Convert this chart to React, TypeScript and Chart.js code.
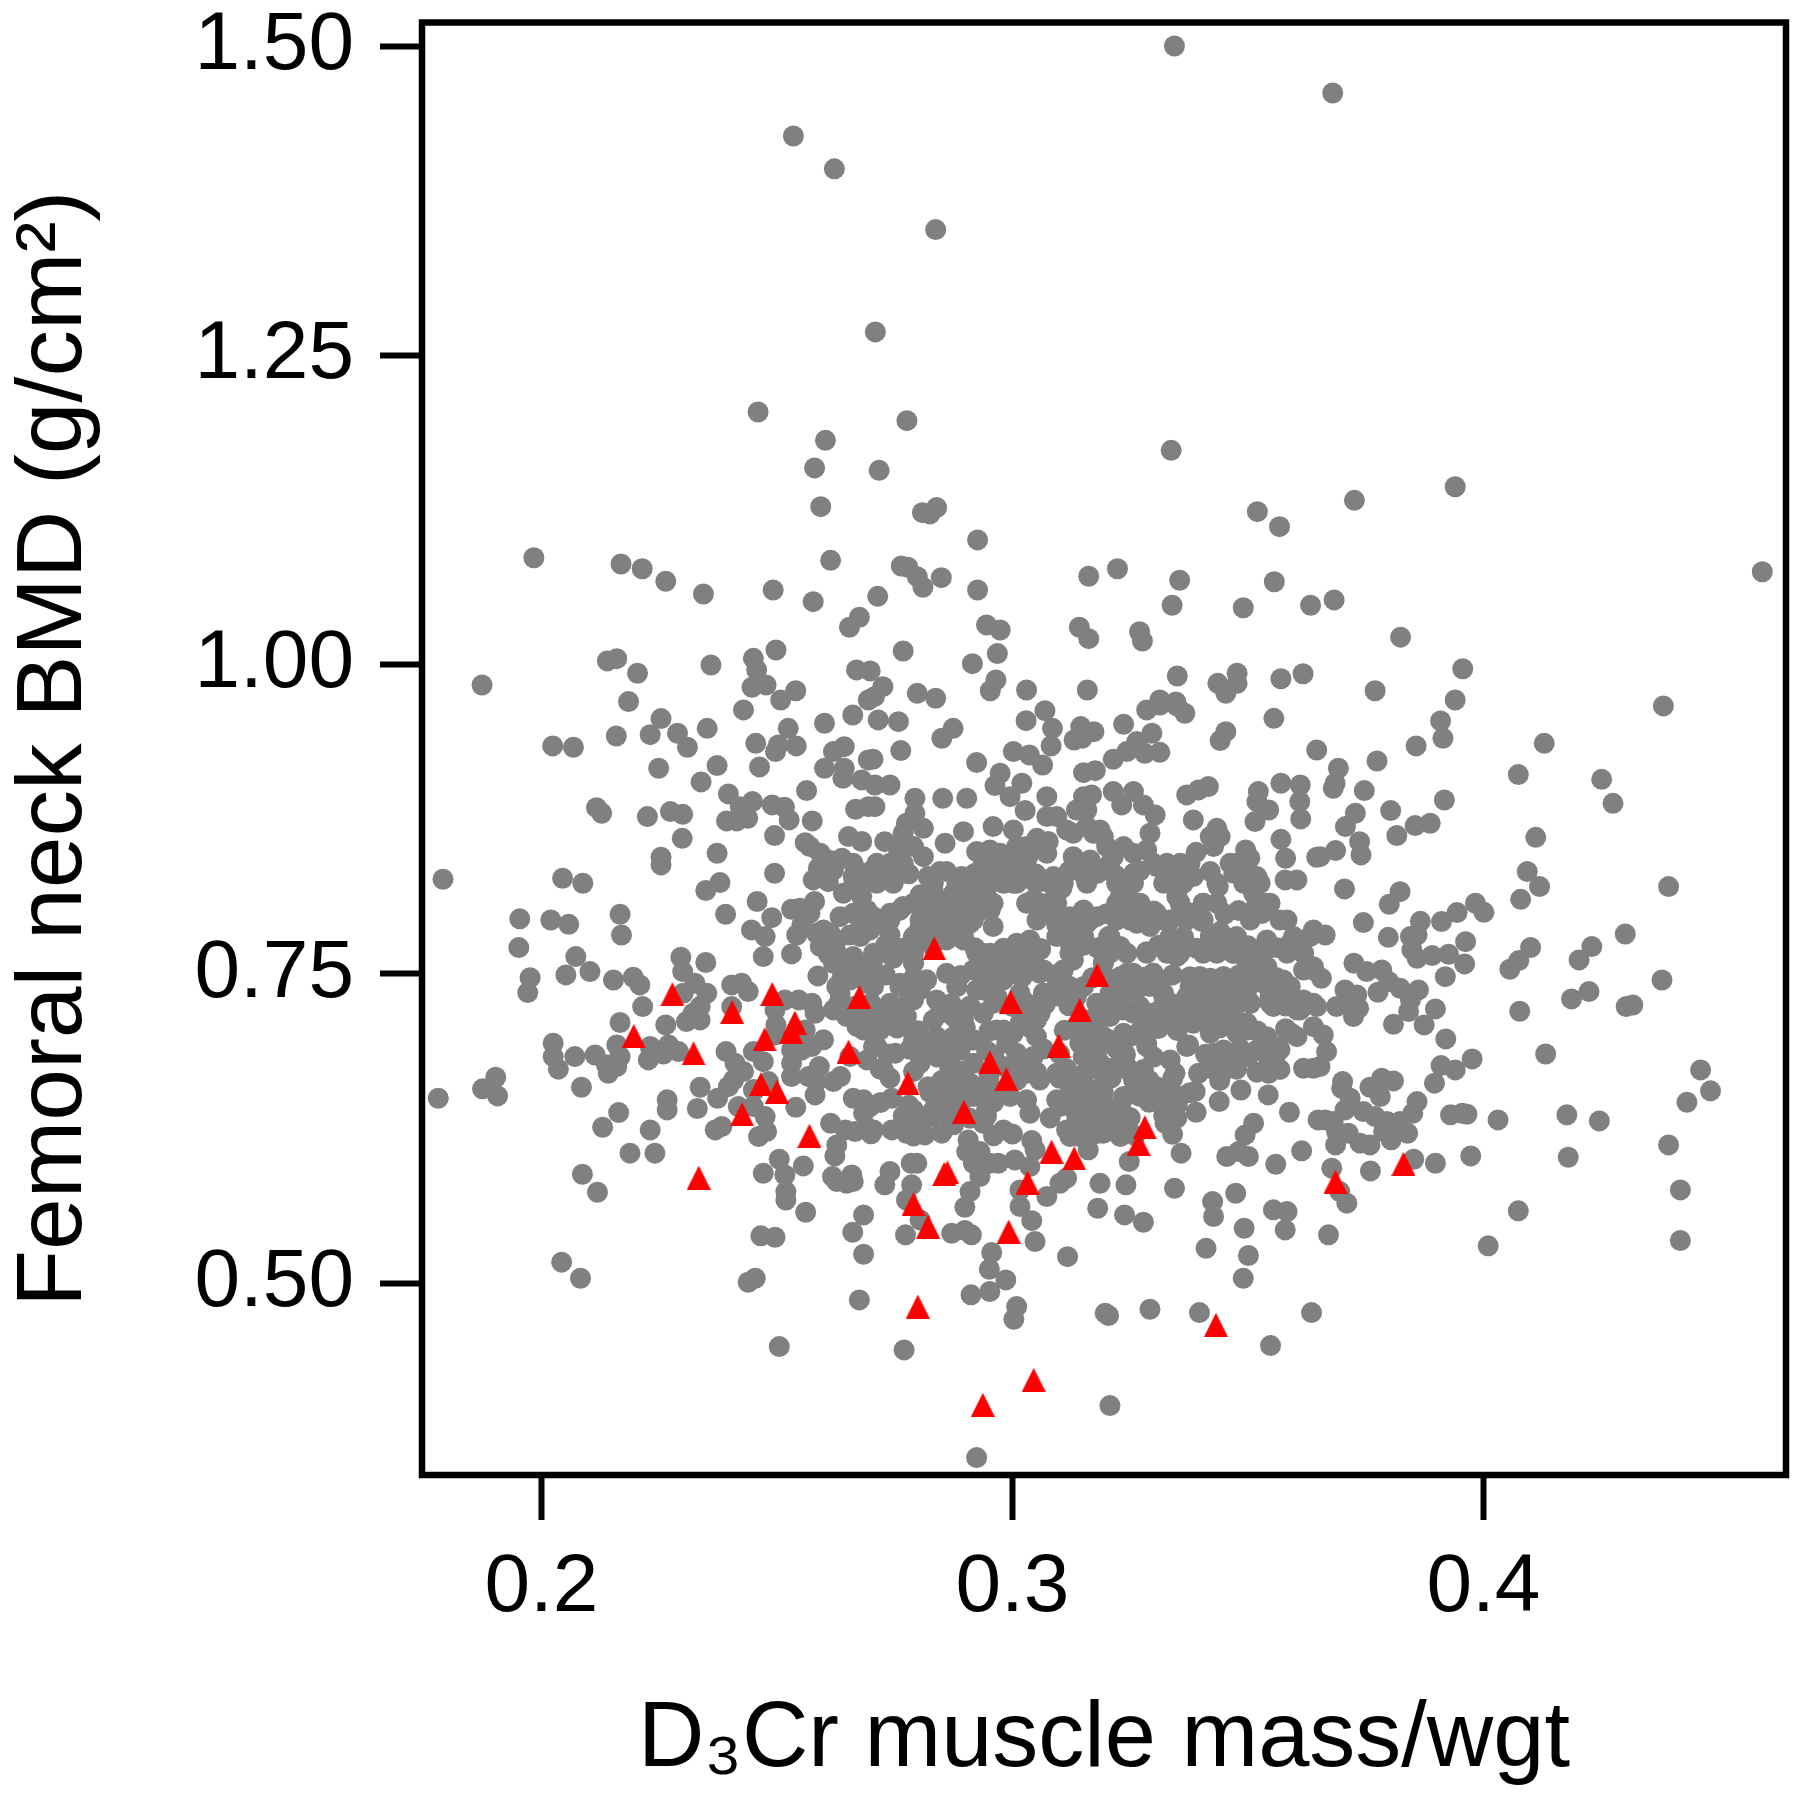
import React, { useEffect, useRef } from "react";
import { Chart, registerables } from "chart.js";

Chart.register(...registerables);

const xTickValues = [0.2, 0.3, 0.4];
const yTickValues = [0.5, 0.75, 1.0, 1.25, 1.5];
const xTitle = "D₃Cr muscle mass/wgt";
const yTitle = "Femoral neck BMD (g/cm²)";

// Grey circles as [ratio, BMD]
const outlierPoints: number[][] = [
  [.3344,1.5],[.3680,1.462],[.2535,1.4273],[.2622,1.4007],[.2837,1.3516],[.4592,1.0751],[.2709,1.2689],[.2460,1.2042],[.2776,1.1972],[.2603,1.1813],[.2580,1.159],[.2717,1.157],[.2593,1.1277],[.2839,1.1269],[.2825,1.1218],[.2809,1.1228],[.2926,1.1008],[.1984,1.0864],[.2169,1.0813],[.2214,1.0775],[.2264,1.0674],[.2344,1.0571],[.2492,1.0603],[.2614,1.0843],[.2577,1.0509],[.2714,1.0552],[.2764,1.0797],[.2778,1.0787],[.2798,1.0711],[.2810,1.0625],[.2849,1.0703],[.2926,1.0603],[.2675,1.0383],[.2654,1.0302],[.2945,1.0321],[.2974,1.028],[.2498,1.0118],[.2450,1.0051],[.2457,.9957],[.2447,.9817],[.2477,.9835],[.2540,.9789],[.2140,1.003],[.2160,1.0048],[.2204,.993],[.2360,.9997],[.2768,1.011],[.2669,.9957],[.2698,.9949],[.2915,1.0008],[.2968,1.0089],[.2965,.9876],[.2953,.9789],[.2725,.9822],[.2707,.9741],[.2798,.9768],[.2837,.9728],[.2185,.9701],[.1874,.9835],[.2508,.9714],
  [.3337,1.1732],[.3940,1.1438],[.3726,1.1328],[.3520,1.1236],[.3567,1.1115],[.3162,1.0714],[.3223,1.0775],[.3355,1.0682],[.3339,1.048],[.3556,1.067],[.3490,1.046],[.3633,1.048],[.3683,1.0523],[.3142,1.0302],[.3162,1.021],[.3270,1.0266],[.3276,1.0191],[.3824,1.0222],[.3956,.9967],[.3350,.9908],[.3436,.9849],[.3477,.993],[.3477,.9849],[.3453,.9768],[.3570,.9886],[.3617,.9926],[.3770,.9789],[.3159,.9795],[.3030,.9795],[.3940,.9714],[.3313,.9714],[.3347,.9698],
];

const upperLeftPoints: number[][] = [
  [.2429,.9634],[.2254,.9564],[.2231,.9434],[.2289,.9445],[.2310,.9332],[.2159,.9423],[.2024,.9343],[.2068,.9332],[.2352,.9485],[.2601,.9526],[.2661,.9593],[.2694,.9714],[.2524,.9485],[.2455,.9364],[.2503,.9351],[.2497,.9297],[.2541,.9343],[.2643,.9337],[.2620,.9297],[.2694,.923],[.2249,.9162],[.2373,.9184],[.2339,.9052],[.2463,.9173],[.2601,.9162],[.2643,.9162],[.2640,.9081],[.2680,.9068],[.2563,.8982],[.2397,.8955],[.2422,.8852],[.2448,.8893],[.2393,.8737],[.2415,.8737],[.2438,.8758],[.2490,.8866],[.2516,.8847],[.2526,.8745],[.2575,.8737],[.2667,.8831],[.2694,.8852],[.2117,.8844],[.2128,.8799],[.2225,.8772],[.2274,.8812],[.2300,.879],[.2299,.8596],[.2495,.8618],[.2560,.8561],[.2570,.8529],[.2652,.861],[.2680,.857],[.2373,.8475],[.2254,.8443],[.2254,.8381],[.2638,.8435],[.2613,.8416],[.2588,.8354],[.2577,.826],[.2609,.8246],[.2495,.8314],[.2045,.8273],[.2088,.8233],[.1791,.8265],[.2379,.8238],[.2349,.8174],[.2458,.8085],[.2662,.8287],[.2684,.826],[.2641,.8152],[.2680,.8125],[.2580,.8085],[.2531,.8023],[.2570,.799],[.2549,.8031],[.2391,.7982],[.2489,.7955],[.2634,.7963],[.2677,.7936],[.1954,.7945],[.2020,.7936],[.2058,.7901],[.2167,.7982],[.2170,.7815],[.2553,.7896],[.2542,.7815],[.2446,.7856],[.2475,.7802],[.2584,.7829],[.2613,.7829],[.2655,.7815],[.2691,.7856],[.1952,.7713],[.2073,.764],[.2471,.764],[.2531,.7662],[.2609,.7659],[.2592,.7721],[.2296,.7635],[.2300,.7519],[.2349,.7592],[.2620,.7586],[.2655,.7573],[.2691,.7573],[.1976,.747],[.1971,.7349],[.2052,.7492],[.2103,.7519],[.2153,.7451],[.2195,.7473],[.2209,.7411],[.2587,.7484],[.2638,.7465],[.2634,.7344],[.2691,.7425],
  [.2592,.8475],[.2620,.834],[.2662,.8394],[.2691,.8314],[.2662,.8206],[.2691,.8017],[.2662,.799],[.2599,.7856],[.2627,.7775],[.2677,.7802],[.2627,.7667],[.2662,.764],[.2691,.7532],[.2627,.7398],[.2655,.7451],[.2627,.7236],[.2662,.7236],[.2684,.7128],
];

const lowerLeftPoints: number[][] = [
  [.2326,.7425],[.2351,.7344],[.2301,.7344],[.2337,.7236],[.2308,.7115],[.2337,.7128],[.2322,.7182],[.2215,.7236],[.2264,.7088],[.2167,.7107],[.2404,.7411],[.2425,.7425],[.2439,.7357],[.2404,.7236],[.2517,.729],[.2546,.729],[.2574,.7263],[.2581,.7182],[.2496,.7209],[.2498,.7088],[.2496,.7007],[.2620,.7209],[.2648,.7155],[.2634,.729],[.2684,.7047],[.2670,.7074],[.2560,.7047],[.2531,.6886],[.2531,.6778],[.2599,.6967],[.2574,.6913],[.2553,.6886],[.2655,.6832],[.2691,.6805],[.2160,.6926],[.2025,.694],[.2025,.6832],[.2036,.673],[.2071,.6832],[.2114,.6845],[.2142,.6697],[.2160,.6751],[.2138,.6765],[.2167,.6832],[.2231,.6913],[.2227,.6805],[.2259,.6853],[.2291,.6872],[.2270,.6926],[.2392,.6872],[.2411,.6778],[.2429,.6711],[.2408,.6643],[.2397,.6589],[.2374,.6495],[.2450,.6872],[.2471,.6791],[.2453,.6563],[.2337,.6584],[.2331,.6412],[.2085,.6584],[.1903,.6665],[.1875,.6571],[.1907,.6514],[.1781,.6495],[.2531,.667],[.2567,.667],[.2590,.6751],[.2584,.663],[.2620,.663],[.2635,.667],[.2581,.6522],[.2482,.663],[.2450,.6563],[.2267,.6482],[.2267,.6401],[.2418,.6428],[.2450,.6428],[.2475,.6347],[.2478,.6226],[.2461,.6185],[.2383,.6266],[.2369,.6239],[.2540,.6422],[.2164,.6379],[.2130,.6261],[.2231,.6239],[.2188,.6051],[.2241,.6051],[.2614,.6293],[.2662,.6495],[.2684,.6482],[.2684,.6374],[.2645,.6239],[.2666,.6226],[.2694,.6253],[.2627,.6118],[.2623,.6029],[.2087,.5881],[.2119,.5735],[.2505,.6002],[.2471,.5889],[.2517,.5875],[.2556,.5948],[.2519,.5741],[.2519,.5673],[.2618,.5862],[.2627,.5822],[.2659,.5875],[.2662,.5822],[.2648,.5808],[.2561,.5574],[.2684,.5552],[.2661,.5412],[.2684,.5234],[.2466,.5383],[.2496,.5372],[.2043,.517],[.2083,.504],[.2439,.5008],[.2454,.504],[.2675,.4865],[.2505,.4488],
];

const lowerCentrePoints: number[][] = [
  [.2744,.6239],[.2775,.6212],[.2814,.6199],[.2705,.6239],[.2875,.628],[.2938,.6293],[.2981,.6239],[.3037,.6374],[.2906,.6158],[.2903,.6064],[.2931,.6064],[.2917,.597],[.2931,.5862],[.2910,.5741],[.2899,.5614],[.2952,.597],[.2970,.597],[.3005,.5997],[.3037,.5943],[.3041,.6153],[.3048,.6078],[.2797,.597],[.2785,.597],[.2740,.5903],[.2729,.5795],[.2786,.5795],[.2775,.5673],[.2804,.5512],[.2773,.5391],[.2871,.5404],[.2899,.5426],[.2913,.5391],[.3016,.5754],[.3016,.562],[.3041,.5506],[.3048,.5337],[.3073,.57],[.3101,.5808],[.3115,.5849],[.3186,.5808],[.3241,.5795],[.3181,.5606],[.3238,.5552],[.3278,.5493],[.3344,.5768],[.3425,.566],[.3427,.5539],[.3474,.5727],[.3492,.5444],[.3554,.5593],[.3583,.5579],[.3579,.5431],[.3411,.5283],[.3501,.5224],[.3490,.504],[.3117,.5215],[.2956,.5248],[.2951,.5113],[.2986,.5027],[.2952,.4933],[.2912,.4906],[.3009,.4811],[.3003,.4709],[.3197,.4758],[.3204,.4739],[.3292,.479],[.3397,.4763],[.3635,.4763],[.3548,.4496],[.2770,.4461],[.3207,.4011],[.2924,.3591],
  [.3358,.6051],[.3248,.5983],[.3161,.6078],[.3455,.6024],[.3480,.6064],[.3501,.6024],[.3559,.5962],[.3614,.607],[.3494,.6199],[.3512,.6293],[.3588,.6382],[.3649,.632],[.3439,.6468],[.3485,.6562],[.3543,.6522],[.3390,.6382],[.3324,.6293],[.3324,.6401],[.3356,.6509],[.3388,.6549],[.3395,.6697],[.3303,.6589],[.3335,.6805],[.3345,.6697],[.3374,.6926],[.3618,.6738],[.3639,.6738],[.3544,.6697],[.3558,.6832],[.3519,.6886],[.3476,.7021],[.3498,.7074],[.3448,.6724],[.3465,.6778],[.3427,.6859],[.3448,.6886],[.3592,.7021],[.3618,.729],[.3646,.7236],[.3554,.7236],[.3469,.7236],[.3505,.7263],[.3491,.7101],[.3420,.7128],[.3384,.7101],[.3335,.7128],[.3313,.7209],[.3377,.7263],[.3405,.7236],[.3434,.7344],[.3398,.7479],[.3448,.7479],[.3497,.7559],[.3540,.7559],[.3575,.7425],[.3639,.7532],
];

const denseBlobPoints: number[][] = [
  [.2705,.7627],[.2747,.7627],[.2790,.7586],[.2761,.7425],[.2818,.7452],[.2860,.7505],[.2740,.7263],[.2790,.729],[.2882,.7398],[.2839,.729],[.2726,.7155],[.2768,.7101],[.2832,.7128],[.2882,.7128],[.2719,.7047],[.2804,.6967],[.2846,.6913],[.2917,.6967],[.2889,.6886],[.2705,.6913],[.2726,.6724],[.2751,.6859],[.2804,.6778],[.2867,.6805],[.2917,.6778],[.2821,.6589],[.2867,.6616],[.2910,.6616],[.2744,.6495],[.2698,.6428],[.2790,.6401],[.2832,.6401],[.2867,.6482],[.2917,.6509],[.2945,.6401],[.2804,.6293],
  [.2938,.7613],[.2981,.7586],[.3037,.7613],[.3058,.7505],[.2938,.7371],[.2938,.7182],[.2960,.7479],[.3030,.7263],[.3066,.7344],[.3101,.7344],[.3122,.7398],[.3108,.7532],[.3129,.7613],[.3193,.7586],[.2981,.7047],[.3016,.7101],[.3051,.7128],[.3136,.7074],[.3165,.7101],[.3207,.7155],[.3257,.7182],[.3236,.7344],[.3278,.7425],[.3306,.7398],[.3299,.7505],[.3214,.7452],[.3243,.7505],[.2988,.694],[.3044,.6832],[.3009,.6859],[.3143,.694],[.3193,.6994],[.3236,.7021],[.3285,.6913],[.3292,.7182],[.2981,.6751],[.3030,.6697],[.3058,.6643],[.3094,.6697],[.3136,.667],[.3186,.6778],[.3193,.6684],[.3136,.6589],[.3179,.6563],[.3243,.6751],[.3257,.6643],[.2960,.6563],[.2995,.6509],[.3030,.6482],[.3094,.6482],[.3151,.6482],[.3200,.6428],[.3236,.6509],[.3271,.6509],[.3306,.6589],[.3321,.6482],[.3122,.6185],[.3158,.6239],[.3193,.6212],[.3229,.6185],[.3243,.6266],[.3115,.6239],[.3101,.6428],[.3193,.6374],[.3207,.6293],
  [.2917,.7532],[.2938,.7478],[.2974,.7505],[.3009,.7505],[.3044,.7532],[.3094,.7398],[.3151,.7398],[.3214,.7398],[.3257,.7505],[.3306,.7451],[.3377,.7478],[.3448,.7425],[.3512,.7505],[.3533,.7425],[.3575,.7451],[.3618,.7532],
  [.2705,.7398],[.2761,.7398],[.2804,.7371],[.2882,.7398],[.2924,.7371],[.2967,.7317],[.3016,.7344],[.3066,.7344],[.3101,.7317],[.3136,.7317],[.3179,.7263],[.3207,.7344],[.3264,.7371],[.3321,.7317],[.3370,.7317],[.3405,.7371],[.3462,.729],[.3498,.7371],[.3547,.7263],[.3590,.7398],
  [.2719,.7209],[.2747,.7209],[.2775,.7155],[.2846,.7182],[.2875,.7155],[.2896,.7128],[.2938,.7182],[.3030,.7182],[.3059,.7182],[.3158,.7128],[.3193,.7155],[.3236,.7209],[.3285,.7155],[.3321,.7155],[.3370,.7155],[.3413,.7155],[.3448,.7182],[.3498,.7101],[.3540,.6993],[.3604,.7209],
  [.2712,.6913],[.2790,.6966],[.2839,.6993],[.2875,.6993],[.2917,.6966],[.2967,.7047],[.3002,.702],[.3051,.6993],[.3143,.6993],[.3165,.6966],[.3207,.6966],[.3250,.6993],[.3285,.694],[.3370,.6913],[.3420,.702],[.3462,.7101],[.3498,.7047],[.3561,.6913],[.3604,.6993],[.3639,.7074],
  [.2782,.6891],[.2811,.6872],[.2860,.6896],[.2945,.688],[.3066,.6893],[.3179,.6868],[.3221,.6897],[.3448,.6874],[.3483,.6895],[.3533,.687],[.3568,.6889],
  [.2719,.6731],[.2790,.6712],[.2867,.6738],[.2896,.6716],[.3002,.6729],[.3051,.6708],[.3115,.6733],[.3158,.6719],[.3214,.6741],[.3250,.6711],[.3278,.6727],[.3420,.6735],[.3448,.6714],[.3476,.673],[.3519,.6706],[.3568,.6728],
  [.2825,.6542],[.2860,.6524],[.2889,.6549],[.2931,.6528],[.3122,.6545],[.3165,.6521],[.3193,.6541],[.3250,.6527],[.3278,.6548],[.3335,.6526],[.3377,.654],
  [.2768,.6353],[.2825,.6338],[.2860,.6359],[.2910,.6333],[.2945,.6351],[.3080,.6336],[.3136,.6355],[.3172,.6331],[.3207,.6349],[.3250,.6339],[.3321,.6356],[.3349,.6334],
  [.2755,.7062],[.2800,.7041],[.2900,.7068],[.2950,.7037],[.3040,.7059],[.3110,.7044],[.3180,.7065],[.3270,.7033],[.3310,.7058],[.3350,.7042],[.3440,.7063],[.3520,.7039],[.3580,.7057],
  [.2735,.6852],[.2840,.6829],[.2960,.6847],[.3010,.6826],[.3100,.6855],[.3150,.6833],[.3240,.6849],[.3300,.6828],[.3410,.6851],[.3500,.6831],[.3540,.6846],
  [.2740,.6658],[.2850,.6639],[.2950,.6662],[.3010,.6643],[.3100,.6656],[.3150,.6637],[.3210,.6661],[.3290,.6641],[.3340,.6655],[.3440,.6638],
  [.2720,.6461],[.2780,.6439],[.2850,.6456],[.2890,.6442],[.2960,.6463],[.3110,.6438],[.3170,.6458],[.3230,.644],[.3290,.6462],[.3350,.6443],
  [.2700,.6208],[.2790,.6189],[.2850,.6213],[.2960,.6192],[.3000,.6206],[.3140,.6187],[.3180,.6211],[.3260,.6194],[.3340,.6204],
  [.2700,.7262],[.2770,.7238],[.2870,.7259],[.2910,.7241],[.2960,.7264],[.3000,.7236],[.3070,.7257],[.3120,.7243],[.3220,.7261],[.3270,.7239],[.3340,.7256],[.3430,.7242],[.3480,.726],[.3580,.724],
];

const upperCentrePoints: number[][] = [
  [.3069,.9628],[.3029,.9547],[.3085,.9485],[.3082,.9343],[.3145,.9499],[.3131,.9391],[.3148,.9405],[.3173,.9458],[.3236,.9518],[.3285,.9634],[.3313,.9674],[.3349,.9666],[.3366,.9607],[.3453,.9458],[.3441,.9386],[.3555,.9566],[.3646,.931],[.3296,.9445],[.3264,.9378],[.3243,.9297],[.3214,.9235],[.3281,.9283],[.3313,.9291],[.3002,.9297],[.3036,.927],[.3064,.9189],[.2924,.9208],[.3151,.9127],[.3176,.9143],[.2874,.9485],[.2850,.9405],[.2763,.9305],[.2758,.9539],[.2715,.9553],[.2704,.9235],[.2740,.9027],[.2793,.892],[.2852,.892],[.2903,.892],[.2974,.9122],[.2963,.9022],[.2995,.8933],[.3020,.9041],[.3073,.8933],[.3027,.882],[.3073,.8772],[.3094,.8772],[.3151,.8933],[.3168,.8947],[.3136,.8825],[.3158,.8825],[.3214,.8974],[.3257,.8974],[.3232,.8866],[.3278,.8866],[.3303,.8785],[.3370,.8947],[.3416,.9014],[.3395,.8987],[.3384,.8745],[.3522,.8974],[.3519,.8893],[.3544,.8825],[.3515,.8731],[.3570,.9041],[.3611,.9027],[.3610,.8893],[.3612,.8753],[.3570,.8588],[.3580,.8435],[.3579,.826],[.3604,.826],[.3646,.8443],[.3434,.8677],[.3441,.861],[.3427,.8529],[.3390,.8483],[.3495,.8502],[.3504,.8435],[.3462,.8394],[.3519,.8287],[.3498,.8287],[.3512,.8152],[.3540,.8071],[.3568,.7936],[.3505,.7955],[.3437,.8206],[.3405,.8071],[.3451,.7984],[.3402,.7923],[.3441,.7842],[.3469,.7775],[.3420,.7748],[.3540,.7775],[.3639,.7856],[.3590,.7748],[.3618,.7667],[.3639,.7559],[.3519,.7613],[.3469,.7667],
  [.3292,.8637],[.3285,.8502],[.3236,.8529],[.3200,.8529],[.3257,.8475],[.3214,.8448],[.3129,.8637],[.3158,.8691],[.3186,.8664],[.3129,.8448],[.3154,.8287],[.3002,.8664],[.2959,.8691],[.2896,.865],[.2857,.8556],[.3052,.8596],[.3076,.857],[.3073,.8475],[.2924,.8489],[.2938,.8367],[.2974,.8475],[.3009,.8529],[.3030,.8421],[.2974,.8287],[.3002,.8233],[.3306,.8367],[.3335,.8367],[.3367,.8367],[.3384,.8287],[.3218,.83],[.3257,.8313],[.3041,.826],[.3087,.8287],[.3105,.8192],[.3044,.8098],[.3087,.8098],[.3059,.7977],[.3229,.8125],[.3229,.799],[.3271,.8071],[.3306,.799],[.3349,.8125],[.3356,.799],[.3264,.7909],[.3292,.7883],[.3335,.7936],[.3151,.8017],[.3179,.7963],[.3122,.7963],[.3094,.7896],[.3122,.7748],[.3158,.7909],[.3204,.7802],[.3229,.7721],[.3285,.768],[.3328,.7707],[.3363,.7775],[.3349,.764],[.3037,.7775],[.3009,.7748],[.2981,.7707],[.3059,.7694],[.2938,.7667],[.2959,.7559],[.2995,.7667],[.3030,.764],[.3066,.7532],[.2981,.7452],[.3129,.7613],[.3105,.7505],[.3193,.7586],[.3229,.7478],[.3257,.7478],[.3299,.7505],[.3292,.7398],[.3321,.7344],[.3236,.7371],[.3398,.7451],[.3377,.7398],[.3427,.7344],[.3476,.7371],[.3363,.7263],[.3405,.7263],[.3448,.7263],[.3505,.7263],[.3575,.7425],[.3547,.7317],[.3590,.7317],[.3639,.7263],[.3611,.7209],
  [.2793,.8798],[.2775,.8718],[.2811,.8677],[.2768,.8637],[.2729,.8569],[.2758,.8502],[.2790,.8529],[.2811,.8448],[.2708,.8852],[.2708,.9027],[.2712,.8341],[.2747,.8287],[.2768,.8394],[.2726,.8367],[.2821,.8287],[.2846,.8327],[.2892,.8287],[.2804,.8139],[.2832,.8165],[.2875,.8152],[.2910,.8125],[.2945,.8125],[.2953,.8017],[.2889,.8017],[.2853,.799],[.2818,.799],[.2768,.8044],[.2740,.799],[.2705,.7963],[.2726,.7936],[.2740,.7815],[.2698,.7856],[.2959,.7883],[.2910,.7909],[.2875,.7883],[.2832,.7909],[.2804,.7883],[.2796,.7748],[.2896,.7775],[.2860,.7775],[.2748,.7635],[.2706,.7627],[.2790,.7592],
  [.2712,.8394],[.2740,.8394],[.2938,.8394],[.2966,.8394],[.2995,.8394],[.3023,.8394],[.3136,.8394],[.3165,.8394],[.3207,.8394],[.3299,.8394],[.3328,.8394],[.3356,.8394],[.3377,.8394],[.3476,.8394],
  [.2712,.8233],[.2747,.8233],[.2832,.8233],[.2882,.8233],[.2924,.8233],[.2953,.8233],[.2981,.8233],[.3009,.8233],[.3051,.8233],[.3080,.8233],[.3108,.8233],[.3158,.8233],[.3221,.8233],[.3257,.8233],[.3321,.8233],[.3363,.8233],[.3434,.8233],[.3491,.8233],[.3526,.8233],
  [.2790,.8071],[.2811,.8071],[.2846,.8071],[.2882,.8071],[.2924,.8071],[.2959,.8071],[.3030,.8071],[.3059,.8071],[.3094,.8071],[.3221,.8071],[.3257,.8071],[.3356,.8071],[.3405,.8071],[.3434,.8071],[.3519,.8071],[.3547,.8071],
  [.2712,.7936],[.2740,.7936],[.2804,.7936],[.2846,.7936],[.2882,.7936],[.2917,.7936],[.3052,.7936],[.3101,.7936],[.3136,.7936],[.3165,.7936],[.3221,.7936],[.3250,.7936],[.3278,.7936],[.3321,.7936],[.3370,.7936],[.3405,.7936],[.3505,.7936],[.3583,.7936],
  [.2790,.7802],[.2818,.7802],[.2860,.7802],[.2896,.7802],[.3094,.7802],[.3122,.7802],[.3151,.7802],[.3207,.7802],[.3335,.7802],[.3363,.7802],[.3420,.7802],[.3448,.7802],[.3476,.7802],[.3597,.7802],[.3632,.7802],
  [.2705,.7667],[.2747,.7667],[.2790,.7667],[.2924,.7667],[.2953,.7667],[.2981,.7667],[.3009,.7667],[.3044,.7667],[.3122,.7667],[.3207,.7667],[.3243,.7667],[.3285,.7667],[.3328,.7667],[.3356,.7667],[.3405,.7667],[.3434,.7667],[.3469,.7667],[.3505,.7667],[.3533,.7667],[.3583,.7667],[.3618,.7667],
  [.3172,.8637],[.3193,.861],[.3115,.8664],[.3165,.8421],[.3037,.8475],[.2995,.8421],[.2945,.826],[.2981,.8367],[.3009,.8367],[.3030,.8529],[.2952,.8502],[.2952,.8394],[.3420,.861],
  [.2730,.7491],[.2790,.7468],[.2890,.7488],[.3020,.7472],[.3090,.7493],[.3170,.7469],[.3190,.7487],[.3280,.7474],[.3340,.7492],[.3420,.7466],[.3480,.7489],[.3560,.7471],
  [.2730,.7731],[.2770,.7709],[.2830,.7728],[.2920,.7712],[.3020,.7733],[.3060,.7706],[.3150,.7729],[.3180,.7711],[.3310,.7732],[.3390,.7708],[.3500,.7727],[.3560,.7713],
  [.2760,.8013],[.2860,.7988],[.2930,.8009],[.3080,.7992],[.3150,.8011],[.3200,.7987],[.3300,.8008],[.3380,.7991],[.3480,.8012],[.3530,.7989],
  [.2700,.8331],[.2780,.8309],[.2860,.8328],[.2920,.8312],[.2990,.8333],[.3050,.8307],[.3120,.8329],[.3180,.8311],[.3270,.8332],[.3340,.8308],[.3420,.8327],[.3470,.8313],
];

const rightPoints: number[][] = [
  [.4382,.9666],[.3909,.9545],[.3914,.9405],[.3857,.9343],[.4129,.9364],[.4074,.9111],[.4251,.9073],[.4275,.8879],[.3774,.9221],[.3692,.9162],[.3685,.9041],[.3681,.9],[.3747,.8982],[.3917,.8906],[.3803,.882],[.3728,.8799],[.3707,.8691],[.3737,.8569],[.3740,.8462],[.3686,.8497],[.3653,.8448],[.3816,.8618],[.3855,.8699],[.3887,.8718],[.4111,.8604],[.4093,.8327],[.4119,.8206],[.4079,.8103],[.4393,.8206],[.3705,.8187],[.3823,.8165],[.3800,.8063],[.3866,.7925],[.3983,.8071],[.4001,.7998],[.3944,.7996],[.3911,.7923],[.3745,.7915],[.3664,.7815],[.3798,.7796],[.3845,.7802],[.3859,.7815],[.3848,.7694],[.3859,.7627],[.3891,.7648],[.3926,.7659],[.3962,.7761],[.3960,.7581],[.3919,.7478],[.4100,.7713],[.4075,.7608],[.4056,.7538],[.4301,.7823],[.4230,.7721],[.4203,.7613],[.4379,.7451],[.4224,.7357],[.4187,.7298],[.4303,.7236],[.4317,.7249],[.4077,.7198],[.3725,.7586],[.3752,.7519],[.3784,.7532],[.3799,.7438],[.3823,.7384],[.3862,.7371],[.3845,.729],[.3841,.7196],[.3776,.7352],[.3706,.7371],[.3731,.733],[.3688,.7236],[.3735,.7222],[.3724,.7155],[.3717,.729],[.3656,.7465],[.3898,.7217],[.3809,.7093],[.3874,.7088],[.3920,.6975],[.3976,.6813],[.3910,.6759],[.3940,.6724],[.4132,.6853],
  [.4461,.6724],[.4482,.6555],[.4432,.6463],[.4177,.6361],[.4246,.6312],[.4393,.6118],[.4180,.6018],[.4418,.5754],[.4418,.5345],[.4074,.5585],[.4010,.5302],[.4031,.632],[.3930,.6361],[.3955,.6374],[.3965,.6366],[.3973,.6029],[.3898,.597],[.3852,.6002],[.3760,.5908],[.3678,.593],[.3695,.5741],[.3710,.5647],[.3671,.5391],[.3896,.6617],[.3859,.6468],[.3850,.6374],[.3823,.6307],[.3839,.6212],[.3804,.6159],[.3788,.6226],[.3759,.6118],[.3738,.6132],[.3713,.6212],[.3686,.6118],[.3688,.6226],[.3664,.632],[.3745,.6388],[.3770,.6347],[.3795,.6307],[.3706,.6401],[.3681,.6307],[.3701,.663],[.3699,.6576],[.3717,.6495],[.3784,.6657],[.3759,.6584],[.3809,.6635],[.3781,.6509],[.3660,.7007],[.3667,.6872],[.3653,.6751],
];

// Red triangles
const trianglePoints: number[][] = [
  [.2278,.7336],[.2490,.7338],[.2675,.7314],[.2405,.7193],[.2538,.7107],[.2530,.7034],[.2474,.6972],[.2196,.6999],[.2652,.6872],[.2323,.6859],[.2466,.6608],[.2500,.6549],[.2426,.6366],[.2569,.6193],[.2334,.5854],
  [.2834,.7707],[.3180,.7492],[.2996,.7276],[.3143,.7209],[.3098,.6921],[.2952,.6786],[.2987,.6649],[.2778,.6616],[.2897,.6387],[.3281,.6261],[.3268,.6126],[.3083,.6064],[.3131,.601],[.2855,.5884],[.2862,.5895],[.3032,.5814],[.2790,.5641],[.2821,.5458],[.2992,.5418],[.2799,.4811],[.3432,.4663],[.3045,.4219],[.2937,.4017],[.3686,.5822],[.3830,.5965],
];

const greyPoints = [
  ...outlierPoints, ...upperLeftPoints, ...lowerLeftPoints, ...lowerCentrePoints,
  ...denseBlobPoints, ...upperCentrePoints, ...rightPoints,
];
const toXY = (list: number[][]) => list.map(([x, y]) => ({ x, y }));

function makeTriangle(): HTMLCanvasElement {
  const c = document.createElement("canvas");
  c.width = 24;
  c.height = 24;
  const g = c.getContext("2d")!;
  g.fillStyle = "#ff0000";
  g.beginPath();
  g.moveTo(12, 0);
  g.lineTo(24, 24);
  g.lineTo(0, 24);
  g.closePath();
  g.fill();
  return c;
}

const framePlugin = {
  id: "frame",
  afterDatasetsDraw(chart: any) {
    const { ctx, chartArea: a } = chart;
    ctx.save();
    ctx.strokeStyle = "#000";
    ctx.lineWidth = 6.5;
    ctx.strokeRect(a.left, a.top, a.right - a.left, a.bottom - a.top);
    ctx.restore();
  },
};

export default function App() {
  const ref = useRef<HTMLCanvasElement>(null);
  useEffect(() => {
    const fontFamily = '"Liberation Sans", Arial, sans-serif';
    const chart = new Chart(ref.current!, {
      type: "scatter",
      data: {
        datasets: [
          {
            label: "Red",
            data: toXY(trianglePoints),
            pointStyle: makeTriangle() as any,
            pointRadius: 12,
            backgroundColor: "#ff0000",
            order: 1,
          },
          {
            label: "Grey",
            data: toXY(greyPoints),
            pointStyle: "circle",
            pointRadius: 10.5,
            pointBorderWidth: 0,
            backgroundColor: "#808080",
            borderColor: "#808080",
            order: 2,
          },
        ],
      },
      options: {
        responsive: false,
        animation: false,
        devicePixelRatio: 1,
        layout: { padding: { top: 22.5, right: 14, left: 0, bottom: 0 } },
        plugins: { legend: { display: false }, tooltip: { enabled: false } },
        scales: {
          x: {
            type: "linear",
            min: 0.17465,
            max: 0.46423,
            afterFit(s: any) { s.height = 1799 - 1475; s.paddingLeft = 0; s.paddingRight = 0; },
            afterBuildTicks(s: any) { s.ticks = xTickValues.map((value) => ({ value })); },
            border: { display: false },
            grid: { drawOnChartArea: false, drawTicks: true, tickLength: 45, tickWidth: 6, tickColor: "#000" },
            ticks: {
              autoSkip: false, maxRotation: 0, padding: 19, color: "#000",
              font: { family: fontFamily, size: 82 },
              callback: (v: any) => Number(v).toFixed(1),
            },
            title: {
              display: true, text: xTitle, color: "#000",
              font: { family: fontFamily, size: 92 },
              padding: { top: 0, bottom: 3 },
            },
          },
          y: {
            type: "linear",
            min: 0.345,
            max: 1.519,
            afterFit(s: any) { s.width = 422; s.paddingTop = 0; s.paddingBottom = 0; },
            afterBuildTicks(s: any) { s.ticks = yTickValues.map((value) => ({ value })); },
            border: { display: false },
            grid: { drawOnChartArea: false, drawTicks: true, tickLength: 42, tickWidth: 6, tickColor: "#000" },
            ticks: {
              autoSkip: false, padding: 26, color: "#000",
              font: { family: fontFamily, size: 82 },
              callback: (v: any) => Number(v).toFixed(2),
            },
            title: {
              display: true, text: yTitle, color: "#000",
              font: { family: fontFamily, size: 93 },
              padding: { top: 0, bottom: 0 },
            },
          },
        },
      },
      plugins: [framePlugin],
    } as any);
    return () => chart.destroy();
  }, []);
  return (
    <canvas
      ref={ref}
      width={1800}
      height={1799}
      style={{ position: "absolute", left: 0, top: 0, display: "block" }}
    />
  );
}
